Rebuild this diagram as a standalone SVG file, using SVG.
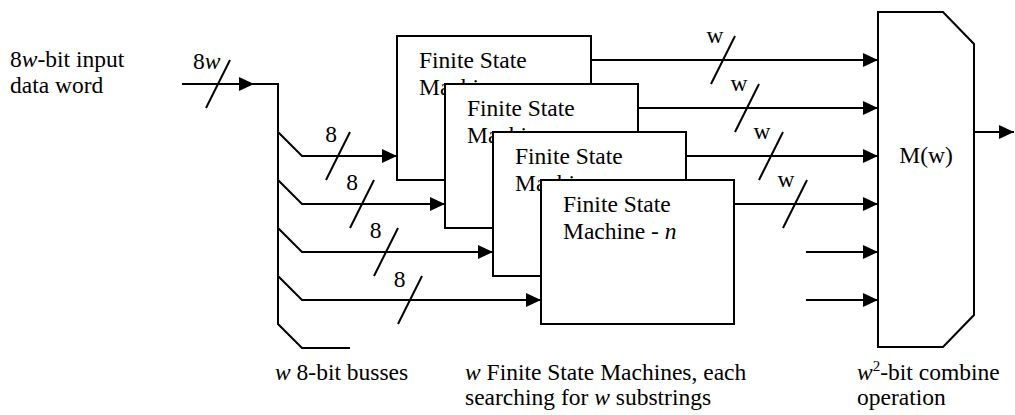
<svg xmlns="http://www.w3.org/2000/svg" width="1015" height="415" viewBox="0 0 1015 415">
<style>
text{font-family:"Times New Roman",Times,"Liberation Serif","Noto Serif","DejaVu Serif",serif;font-size:23.5px;fill:#000}
.i{font-style:italic}
.ln{fill:none;stroke:#000;stroke-width:2}
.box{fill:#fff;stroke:#000;stroke-width:2}
.arr{fill:none;stroke:#000;stroke-width:2;marker-end:url(#ah)}
.mid{text-anchor:middle}
</style>
<defs>
<marker id="ah" markerUnits="userSpaceOnUse" markerWidth="16" markerHeight="14" refX="15" refY="7" orient="auto">
<path d="M0,0 L15,7 L0,14 Z" fill="#000"/>
</marker>
</defs>
<rect width="1015" height="415" fill="#fff"/>
<g id="labels">
<text x="10" y="67"><tspan>8</tspan><tspan class="i">w</tspan><tspan>-bit input</tspan></text>
<text x="10" y="93">data word</text>
<text x="275" y="380"><tspan class="i">w</tspan> 8-bit busses</text>
<text x="465" y="380"><tspan class="i">w</tspan> Finite State Machines, each</text>
<text x="465" y="405">searching for <tspan class="i">w</tspan> substrings</text>
<text x="857" y="380"><tspan class="i">w</tspan><tspan font-size="15" dy="-9">2</tspan><tspan dy="9">-bit combine</tspan></text>
<text x="857" y="405">operation</text>
</g>
<g id="connectors">
<path class="arr" d="M182,84 H254"/>
<path class="ln" d="M254,84 H278 V324 L302,348 H350"/>
<path class="ln" d="M206,108 L230,60"/>
<text x="193" y="69">8<tspan class="i">w</tspan></text>
<path class="arr" d="M278,132 L302,156 H397"/>
<path class="arr" d="M278,180 L302,204 H445"/>
<path class="arr" d="M278,228 L302,252 H493"/>
<path class="arr" d="M278,276 L302,300 H541"/>
<path class="ln" d="M326,180 L350,132 M350,228 L374,180 M374,276 L398,228 M398,324 L422,276"/>
<text class="mid" x="331" y="142">8</text>
<text class="mid" x="352" y="190">8</text>
<text class="mid" x="375.5" y="238">8</text>
<text class="mid" x="399.5" y="287">8</text>
<path class="arr" d="M591,60 H878"/>
<path class="arr" d="M638,108 H878"/>
<path class="arr" d="M686,156 H878"/>
<path class="arr" d="M734,204 H878"/>
<path class="arr" d="M806,252 H878"/>
<path class="arr" d="M806,300 H878"/>
<path class="ln" d="M711,84 L735,36 M735,132 L759,84 M759,180 L783,132 M783,228 L807,180"/>
<text class="mid" x="715" y="43">w</text>
<text class="mid" x="739" y="91">w</text>
<text class="mid" x="762" y="139">w</text>
<text class="mid" x="786" y="187">w</text>
<path class="arr" d="M974,132 H1014"/>
</g>
<g id="fsm1">
<rect class="box" x="397" y="36" width="194" height="144"/>
<text x="419" y="68">Finite State</text>
<text x="419" y="95">Machine</text>
</g>
<g id="fsm2">
<rect class="box" x="445" y="84" width="193" height="144"/>
<text x="467" y="116">Finite State</text>
<text x="467" y="143">Machine</text>
</g>
<g id="fsm3">
<rect class="box" x="493" y="132" width="193" height="144"/>
<text x="515" y="164">Finite State</text>
<text x="515" y="191">Machine</text>
</g>
<g id="fsmn">
<rect class="box" x="541" y="180" width="193" height="144"/>
<text x="563" y="212">Finite State</text>
<text x="563" y="239">Machine - <tspan class="i">n</tspan></text>
</g>
<g id="combine">
<path class="box" d="M878,12 H943 L974,44 V315 L943,347 H878 Z"/>
<text class="mid" x="926" y="163">M(w)</text>
</g>
</svg>
